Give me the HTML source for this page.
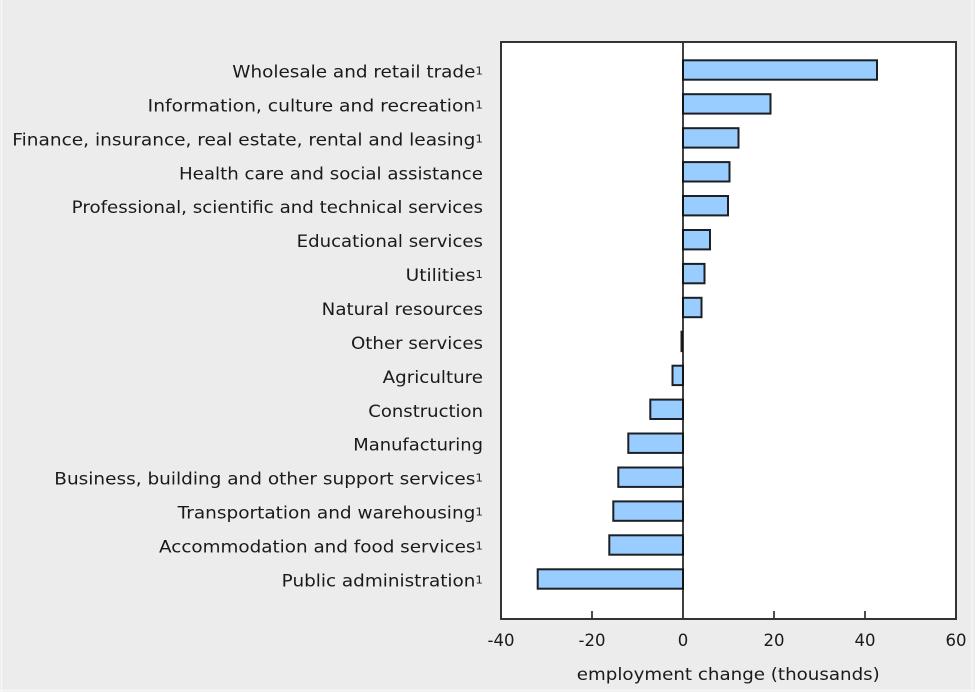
<!DOCTYPE html>
<html>
<head>
<meta charset="utf-8">
<style>
html,body{margin:0;padding:0;background:#ececec;}
svg{display:block;}
text{font-family:"DejaVu Sans","Liberation Sans",sans-serif;fill:#1a1a1a;}
</style>
</head>
<body>
<svg width="975" height="692" viewBox="0 0 975 692" xmlns="http://www.w3.org/2000/svg">
  <rect x="0" y="0" width="975" height="692" fill="#ececec"/>
  <line x1="1.5" y1="0" x2="1.5" y2="692" stroke="#f8f8f8" stroke-width="1.5"/>
  <line x1="0" y1="690.5" x2="975" y2="690.5" stroke="#f8f8f8" stroke-width="1.5"/>
  <line x1="972" y1="0" x2="972" y2="692" stroke="#f6f6f6" stroke-width="1.5"/>

  <!-- plot area -->
  <rect x="501" y="42" width="455" height="577" fill="#ffffff"/>

  <!-- bars -->
  <g fill="#99ccff" stroke="#1c1f24" stroke-width="2">
    <rect x="683" y="60.3" width="194" height="19.4"/>
    <rect x="683" y="94.2" width="87.5" height="19.4"/>
    <rect x="683" y="128.2" width="55.5" height="19.4"/>
    <rect x="683" y="162.1" width="46.5" height="19.4"/>
    <rect x="683" y="196.0" width="45" height="19.4"/>
    <rect x="683" y="230.0" width="27" height="19.4"/>
    <rect x="683" y="263.9" width="21.5" height="19.4"/>
    <rect x="683" y="297.8" width="18.5" height="19.4"/>
    <rect x="672.5" y="365.7" width="10.5" height="19.4"/>
    <rect x="650.3" y="399.6" width="32.7" height="19.4"/>
    <rect x="628.3" y="433.5" width="54.7" height="19.4"/>
    <rect x="618.3" y="467.5" width="64.7" height="19.4"/>
    <rect x="613.3" y="501.4" width="69.7" height="19.4"/>
    <rect x="609.3" y="535.3" width="73.7" height="19.4"/>
    <rect x="537.7" y="569.3" width="145.3" height="19.4"/>
  </g>
  <rect x="680.5" y="330.7" width="2.5" height="21.4" fill="#1c1f24"/>

  <!-- zero line -->
  <line x1="683" y1="42" x2="683" y2="619" stroke="#111" stroke-width="1.6"/>

  <!-- ticks -->
  <g stroke="#222" stroke-width="1.6">
    <line x1="592" y1="611" x2="592" y2="619"/>
    <line x1="774" y1="611" x2="774" y2="619"/>
    <line x1="865" y1="611" x2="865" y2="619"/>
  </g>

  <!-- frame -->
  <rect x="501" y="42" width="455" height="577" fill="none" stroke="#333" stroke-width="2"/>

  <!-- category labels -->
  <g font-size="17" text-anchor="end">
    <text x="483" y="77.5" textLength="250.7" lengthAdjust="spacingAndGlyphs">Wholesale and retail trade<tspan font-size="11" dy="-3">1</tspan></text>
    <text x="483" y="111.4" textLength="335.3" lengthAdjust="spacingAndGlyphs">Information, culture and recreation<tspan font-size="11" dy="-3">1</tspan></text>
    <text x="483" y="145.4" textLength="470.7" lengthAdjust="spacingAndGlyphs">Finance, insurance, real estate, rental and leasing<tspan font-size="11" dy="-3">1</tspan></text>
    <text x="483" y="179.3" textLength="304" lengthAdjust="spacingAndGlyphs">Health care and social assistance</text>
    <text x="483" y="213.2" textLength="411.3" lengthAdjust="spacingAndGlyphs">Professional, scientific and technical services</text>
    <text x="483" y="247.2" textLength="186.3" lengthAdjust="spacingAndGlyphs">Educational services</text>
    <text x="483" y="281.1" textLength="77.3" lengthAdjust="spacingAndGlyphs">Utilities<tspan font-size="11" dy="-3">1</tspan></text>
    <text x="483" y="315.0" textLength="161.3" lengthAdjust="spacingAndGlyphs">Natural resources</text>
    <text x="483" y="348.9" textLength="132" lengthAdjust="spacingAndGlyphs">Other services</text>
    <text x="483" y="382.9" textLength="100.3" lengthAdjust="spacingAndGlyphs">Agriculture</text>
    <text x="483" y="416.8" textLength="114.7" lengthAdjust="spacingAndGlyphs">Construction</text>
    <text x="483" y="450.7" textLength="129.7" lengthAdjust="spacingAndGlyphs">Manufacturing</text>
    <text x="483" y="484.7" textLength="428.7" lengthAdjust="spacingAndGlyphs">Business, building and other support services<tspan font-size="11" dy="-3">1</tspan></text>
    <text x="483" y="518.6" textLength="305.3" lengthAdjust="spacingAndGlyphs">Transportation and warehousing<tspan font-size="11" dy="-3">1</tspan></text>
    <text x="483" y="552.5" textLength="324" lengthAdjust="spacingAndGlyphs">Accommodation and food services<tspan font-size="11" dy="-3">1</tspan></text>
    <text x="483" y="586.5" textLength="201.3" lengthAdjust="spacingAndGlyphs">Public administration<tspan font-size="11" dy="-3">1</tspan></text>
  </g>

  <!-- tick labels -->
  <g font-size="16.5" text-anchor="middle">
    <text x="501" y="646">-40</text>
    <text x="592" y="646">-20</text>
    <text x="683" y="646">0</text>
    <text x="774" y="646">20</text>
    <text x="865" y="646">40</text>
    <text x="956" y="646">60</text>
  </g>

  <!-- axis title -->
  <text x="728.3" y="680" font-size="17" text-anchor="middle" textLength="303" lengthAdjust="spacingAndGlyphs">employment change (thousands)</text>
</svg>
</body>
</html>
